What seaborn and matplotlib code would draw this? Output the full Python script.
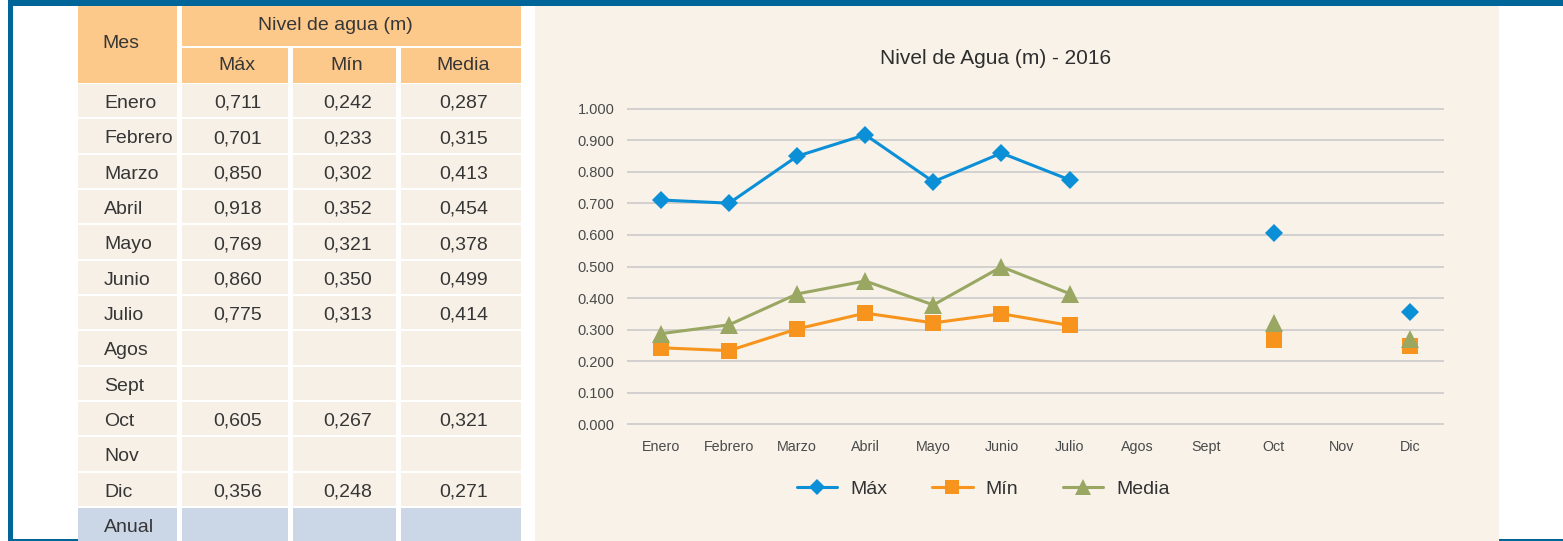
"""
Nivel de agua (m) - 2016: tabla mensual y grafico de lineas
"""

import numpy as np
import pandas as pd
import matplotlib.pyplot as plt
from matplotlib.patches import Rectangle
from matplotlib.lines import Line2D
import seaborn as sns

# Datos
meses = ['Enero', 'Febrero', 'Marzo', 'Abril', 'Mayo', 'Junio', 'Julio',
         'Agos', 'Sept', 'Oct', 'Nov', 'Dic']
maximo = [0.711, 0.701, 0.850, 0.918, 0.769, 0.860, 0.775, np.nan, np.nan, 0.605, np.nan, 0.356]
minimo = [0.242, 0.233, 0.302, 0.352, 0.321, 0.350, 0.313, np.nan, np.nan, 0.267, np.nan, 0.248]
media = [0.287, 0.315, 0.413, 0.454, 0.378, 0.499, 0.414, np.nan, np.nan, 0.321, np.nan, 0.271]
series = ['Máx', 'Mín', 'Media']
y_ticks = [0.0, 0.1, 0.2, 0.3, 0.4, 0.5, 0.6, 0.7, 0.8, 0.9, 1.0]

# Configuracion
sns.set_style('white')
plt.rcParams['font.family'] = ['Liberation Sans', 'DejaVu Sans']

AZUL_MARCO = '#00669A'
NARANJA_CAB = '#FDC98B'
BEIGE = '#F8F2E9'
CELDA = '#F7F0E6'
AZUL_ANUAL = '#CBD7E7'
TEXTO = '#363636'
colores = {'Máx': '#0B8FD6', 'Mín': '#F7941D', 'Media': '#9AA763'}
marcadores = {'Máx': ('D', 9.3), 'Mín': ('s', 11.5), 'Media': ('^', 12.8)}

W, H = 1563, 541
fig = plt.figure(figsize=(W / 100, H / 100), dpi=100)
fig.patch.set_facecolor('white')

# Fondo en coordenadas de pixel
bg = fig.add_axes([0, 0, 1, 1])
bg.set_xlim(0, W)
bg.set_ylim(H, 0)
bg.axis('off')

# Marco azul
bg.add_patch(Rectangle((8, 539.3), 72, 2, color=AZUL_MARCO, lw=0))
bg.add_patch(Rectangle((1497, 539.3), W - 1497, 2, color=AZUL_MARCO, lw=0))
bg.add_patch(Rectangle((8, 0), W - 8, 5.5, color=AZUL_MARCO, lw=0))
bg.add_patch(Rectangle((8, 0), 5, H, color=AZUL_MARCO, lw=0))

# Panel del grafico
bg.add_patch(Rectangle((535, 5.5), 1499 - 535, H - 5.5, color=BEIGE, lw=0))

# Tabla
col_x = [(78, 177), (182, 288), (293, 396), (401, 521)]
fs = 14
bg.add_patch(Rectangle((78, 5.5), 99, 77.2, color=NARANJA_CAB, lw=0))
bg.add_patch(Rectangle((182, 5.5), 521 - 182, 40.2, color=NARANJA_CAB, lw=0))
bg.text(121, 43.5, 'Mes', ha='center', va='center', fontsize=fs, color=TEXTO)
bg.text(335, 25.5, 'Nivel de agua (m)', ha='center', va='center', fontsize=fs, color=TEXTO)
for (x0, x1), nombre in zip(col_x[1:], series):
    bg.add_patch(Rectangle((x0, 47.7), x1 - x0, 35, color=NARANJA_CAB, lw=0))
    bg.text((x0 + x1) / 2 + 2, 65.5, nombre, ha='center', va='center', fontsize=fs, color=TEXTO)

filas = meses + ['Anual']
valores = list(zip(maximo, minimo, media)) + [(np.nan, np.nan, np.nan)]
paso = 35.33
for i, (mes, vals) in enumerate(zip(filas, valores)):
    top = 84 + i * paso
    alto = 33.3 if mes != 'Anual' else H - top
    color = AZUL_ANUAL if mes == 'Anual' else CELDA
    for x0, x1 in col_x:
        bg.add_patch(Rectangle((x0, top), x1 - x0, alto, color=color, lw=0))
    yc = top + 19.5
    bg.text(104, yc, mes, ha='left', va='center', fontsize=fs, color=TEXTO)
    for (x0, x1), v in zip(col_x[1:], vals):
        if not np.isnan(v):
            txt = f'{v:.3f}'.replace('.', ',')
            bg.text((x0 + x1) / 2 + 3, yc, txt, ha='center', va='center',
                    fontsize=fs, color=TEXTO)

# Datos en formato largo, con tramos continuos
registros = []
for nombre, vals in zip(series, [maximo, minimo, media]):
    tramo = 0
    previo = False
    for pos, v in enumerate(vals):
        if np.isnan(v):
            previo = False
            continue
        if not previo:
            tramo += 1
        previo = True
        registros.append({'pos': pos, 'valor': v, 'serie': nombre, 'tramo': tramo})
df = pd.DataFrame(registros)

# Grafico
ax = fig.add_axes([627 / W, (H - 425) / H, (1444 - 627) / W, (425 - 108) / H])
ax.set_facecolor('none')
for nombre in series:
    sub = df[df['serie'] == nombre]
    m, s = marcadores[nombre]
    sns.lineplot(data=sub, x='pos', y='valor', units='tramo', estimator=None,
                 color=colores[nombre], marker=m, markersize=s, markeredgewidth=0,
                 linewidth=2.2, ax=ax)

ax.set_xlim(-0.5, 11.5)
ax.set_ylim(-0.003, 1.003)
ax.set_xticks(range(len(meses)))
ax.set_xticklabels(meses)
ax.set_yticks(y_ticks)
ax.set_yticklabels([f'{t:.3f}' for t in y_ticks])
ax.set_xlabel('')
ax.set_ylabel('')
ax.tick_params(axis='both', length=0, colors='#4A4A4A')
ax.tick_params(axis='y', labelsize=10.5, pad=9)
ax.tick_params(axis='x', labelsize=10.3, pad=11)
ax.yaxis.grid(True, color='#C8C8C8', linewidth=1.1)
ax.xaxis.grid(False)
ax.set_axisbelow(True)
for sp in ax.spines.values():
    sp.set_visible(False)

fig.text(996 / W, 1 - 58 / H, 'Nivel de Agua (m) - 2016', ha='center', va='center',
         fontsize=15, color='#2E2E2E')

handles = [Line2D([0], [0], color=colores[n], marker=marcadores[n][0],
                  markersize=marcadores[n][1] * 0.85, markeredgewidth=0, linewidth=2.2)
           for n in series]
fig.legend(handles, series, loc='center', bbox_to_anchor=(983 / W, 1 - 489 / H),
           ncol=3, frameon=False, fontsize=14, handlelength=2.1, handletextpad=0.65,
           columnspacing=2.3, labelcolor='#333333')

plt.savefig('out.png', dpi=100)
plt.close()
